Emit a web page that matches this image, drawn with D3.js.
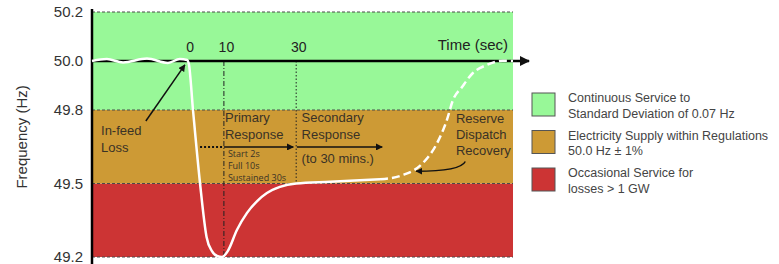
<!DOCTYPE html>
<html lang="en">
<head>
<meta charset="UTF-8">
<title>Frequency response</title>
<script src="https://cdn.jsdelivr.net/npm/d3@7"></script>
<style>
    body { margin: 0; background: #fff; }
    svg { display: block; font-family: "Liberation Sans", Arial, sans-serif; }
    .note { font-size: 13px; fill: #3a3226; }
    .small { font-size: 9px; fill: #3a3226; font-family: "Open Sans", sans-serif; }
    .legend text { font-size: 12.5px; fill: #444; }
</style>
</head>
<body>
<svg id="chart" width="779" height="264"></svg>
<script>
// frequency bands (Hz) and the legend that goes with them
const bandEdges = [49.2, 49.5, 49.8, 50.2];
const bandColors = ["#cc3434", "#cd9a35", "#98f898"];
const freqTicks = [49.2, 49.5, 49.8, 50.0, 50.2];
const timeTicks = [0, 10, 30];
const legendLines = [
    ["Continuous Service to", "Standard Deviation of 0.07 Hz"],
    ["Electricity Supply within Regulations", "50.0 Hz \u00b1 1%"],
    ["Occasional Service for", "losses > 1 GW"]
];

// frequency trace [time (s), Hz]
const traceSolid = [
    [-26.5, 50.000], [-22.4, 50.008], [-17.9, 49.994], [-11.3, 50.010],
    [-5.5, 49.992], [-2.2, 50.008], [-0.2, 50.004], [0.3, 49.988],
    [1.45, 49.80], [3.4, 49.50], [5.2, 49.282], [6.7, 49.224],
    [8.1, 49.204], [9.5, 49.200], [11.1, 49.225], [13.6, 49.310],
    [16.4, 49.380], [19.2, 49.428], [21.9, 49.461], [25.5, 49.486],
    [30.0, 49.500], [39.4, 49.507], [53.2, 49.517]
];
const traceDashed = [
    [53.2, 49.517], [59.6, 49.535], [65.1, 49.584], [69.0, 49.665],
    [71.7, 49.759], [73.4, 49.841], [75.9, 49.894], [78.9, 49.951],
    [82.8, 49.984], [87.2, 50.001], [90.0, 50.000]
];

const svg = d3.select("#chart");
const x = d3.scaleLinear().domain([-26.5, 90]).range([92, 513]);
const y = d3.scaleLinear().domain([49.2, 50.2]).range([257, 12]);

const defs = svg.append("defs");
defs.append("marker")
    .attr("id", "head")
    .attr("viewBox", "0 0 10 10")
    .attr("refX", 9).attr("refY", 5)
    .attr("markerWidth", 7).attr("markerHeight", 7)
    .attr("markerUnits", "userSpaceOnUse")
    .attr("orient", "auto")
    .append("path").attr("d", "M0,0L10,5L0,10Z").attr("fill", "#111");
defs.append("marker")
    .attr("id", "bighead")
    .attr("viewBox", "0 0 10 10")
    .attr("refX", 9).attr("refY", 5)
    .attr("markerWidth", 10).attr("markerHeight", 10)
    .attr("markerUnits", "userSpaceOnUse")
    .attr("orient", "auto")
    .append("path").attr("d", "M0,0L10,5L0,10Z").attr("fill", "#111");

// bands
svg.selectAll("rect.band")
    .data(bandColors)
    .enter().append("rect")
    .attr("class", "band")
    .attr("x", x.range()[0])
    .attr("width", x.range()[1] - x.range()[0])
    .attr("y", (d, i) => y(bandEdges[i + 1]))
    .attr("height", (d, i) => y(bandEdges[i]) - y(bandEdges[i + 1]))
    .attr("fill", d => d);

svg.selectAll("line.edge")
    .data(bandEdges)
    .enter().append("line")
    .attr("x1", x.range()[0]).attr("x2", x.range()[1])
    .attr("y1", d => y(d)).attr("y2", d => y(d))
    .attr("stroke", "#4a4a4a").attr("stroke-width", 1)
    .attr("stroke-dasharray", "3,2");

// response markers
svg.append("line")
    .attr("x1", x(10)).attr("x2", x(10))
    .attr("y1", y(50)).attr("y2", y(49.2))
    .attr("stroke", "#222").attr("stroke-width", 1)
    .attr("stroke-dasharray", "5,2,1,2");
svg.append("line")
    .attr("x1", x(30)).attr("x2", x(30))
    .attr("y1", y(50)).attr("y2", y(49.5))
    .attr("stroke", "#222").attr("stroke-width", 1)
    .attr("stroke-dasharray", "1.5,2");

// time axis
svg.append("line")
    .attr("x1", x.range()[0]).attr("x2", 529)
    .attr("y1", y(50)).attr("y2", y(50))
    .attr("stroke", "#000").attr("stroke-width", 2.5)
    .attr("marker-end", "url(#bighead)");

const xAxis = svg.append("g")
    .attr("transform", `translate(0,${y(50) - 6})`)
    .call(d3.axisTop(x).tickValues(timeTicks).tickSize(0).tickFormat(d3.format("d")));
xAxis.select(".domain").remove();
xAxis.selectAll("text")
    .attr("font-size", 14).attr("fill", "#222")
    .attr("font-family", "Liberation Sans, Arial, sans-serif")
    .attr("dx", 2);

svg.append("text")
    .attr("x", 508).attr("y", 50)
    .attr("text-anchor", "end")
    .attr("font-size", 15).attr("fill", "#222")
    .text("Time (sec)");

// frequency axis
const yAxis = svg.append("g")
    .attr("transform", `translate(${x.range()[0] - 6},0)`)
    .call(d3.axisLeft(y).tickValues(freqTicks).tickSize(0).tickFormat(d3.format(".1f")));
yAxis.select(".domain").remove();
yAxis.selectAll("text")
    .attr("font-size", 15).attr("fill", "#333")
    .attr("font-family", "Liberation Sans, Arial, sans-serif");

svg.append("line")
    .attr("x1", x.range()[0]).attr("x2", x.range()[0])
    .attr("y1", 9).attr("y2", 264)
    .attr("stroke", "#000").attr("stroke-width", 2.5);

svg.append("text")
    .attr("transform", `translate(27,${y(49.69)}) rotate(-90)`)
    .attr("text-anchor", "middle")
    .attr("font-size", 15).attr("fill", "#333")
    .text("Frequency (Hz)");

// trace
const line = d3.line().x(d => x(d[0])).y(d => y(d[1])).curve(d3.curveMonotoneX);
svg.append("path")
    .datum(traceSolid)
    .attr("d", line)
    .attr("fill", "none").attr("stroke", "#fff").attr("stroke-width", 2.5);
svg.append("path")
    .datum(traceDashed)
    .attr("d", line)
    .attr("fill", "none").attr("stroke", "#fff").attr("stroke-width", 2.5)
    .attr("stroke-dasharray", "8,4");

// annotations
function note(t, f, lines, cls, lh) {
    const tx = svg.append("text").attr("class", cls)
        .attr("x", x(t)).attr("y", y(f));
    lines.forEach((s, i) => {
        tx.append("tspan").attr("x", x(t)).attr("dy", i ? lh : 0).text(s);
    });
}
note(-24, 49.698, ["In-feed", "Loss"], "note", 17);
svg.append("line")
    .attr("x1", x(-11.6)).attr("y1", y(49.755))
    .attr("x2", x(-0.8)).attr("y2", y(49.984))
    .attr("stroke", "#111").attr("stroke-width", 1.5)
    .attr("marker-end", "url(#head)");

note(10.3, 49.751, ["Primary", "Response"], "note", 17);
svg.append("line")
    .attr("x1", x(3.4)).attr("x2", x(10))
    .attr("y1", y(49.649)).attr("y2", y(49.649))
    .attr("stroke", "#111").attr("stroke-width", 2)
    .attr("stroke-dasharray", "2,2");
svg.append("line")
    .attr("x1", x(10)).attr("x2", x(29.2))
    .attr("y1", y(49.649)).attr("y2", y(49.649))
    .attr("stroke", "#111").attr("stroke-width", 1.5)
    .attr("marker-end", "url(#head)");
note(11.1, 49.608, ["Start 2s", "Full 10s", "Sustained 30s"], "small", 12);

note(31.5, 49.751, ["Secondary", "Response"], "note", 17);
svg.append("line")
    .attr("x1", x(30.2)).attr("x2", x(53.8))
    .attr("y1", y(49.649)).attr("y2", y(49.649))
    .attr("stroke", "#111").attr("stroke-width", 1.5)
    .attr("marker-end", "url(#head)");
note(31.5, 49.584, ["(to 30 mins.)"], "note", 17);

note(74.2, 49.747, ["Reserve", "Dispatch", "Recovery"], "note", 16);
svg.append("path")
    .attr("d", `M${x(76.8)},${y(49.59)} Q${x(75.5)},${y(49.55)} ${x(63.2)},${y(49.55)}`)
    .attr("fill", "none").attr("stroke", "#111").attr("stroke-width", 1.5)
    .attr("marker-end", "url(#head)");

// legend
const legend = svg.append("g").attr("class", "legend");
const rows = legend.selectAll("g")
    .data(legendLines)
    .enter().append("g")
    .attr("transform", (d, i) => `translate(532,${93 + i * 37.5})`);
rows.append("rect")
    .attr("width", 23).attr("height", 23)
    .attr("fill", (d, i) => bandColors[bandColors.length - 1 - i])
    .attr("stroke", "#555").attr("stroke-width", 1);
rows.append("text")
    .attr("x", 36).attr("y", 9)
    .each(function (d) {
        const t = d3.select(this);
        d.forEach((s, i) => t.append("tspan").attr("x", 36).attr("dy", i ? 15.5 : 0).text(s));
    });
</script>
</body>
</html>
